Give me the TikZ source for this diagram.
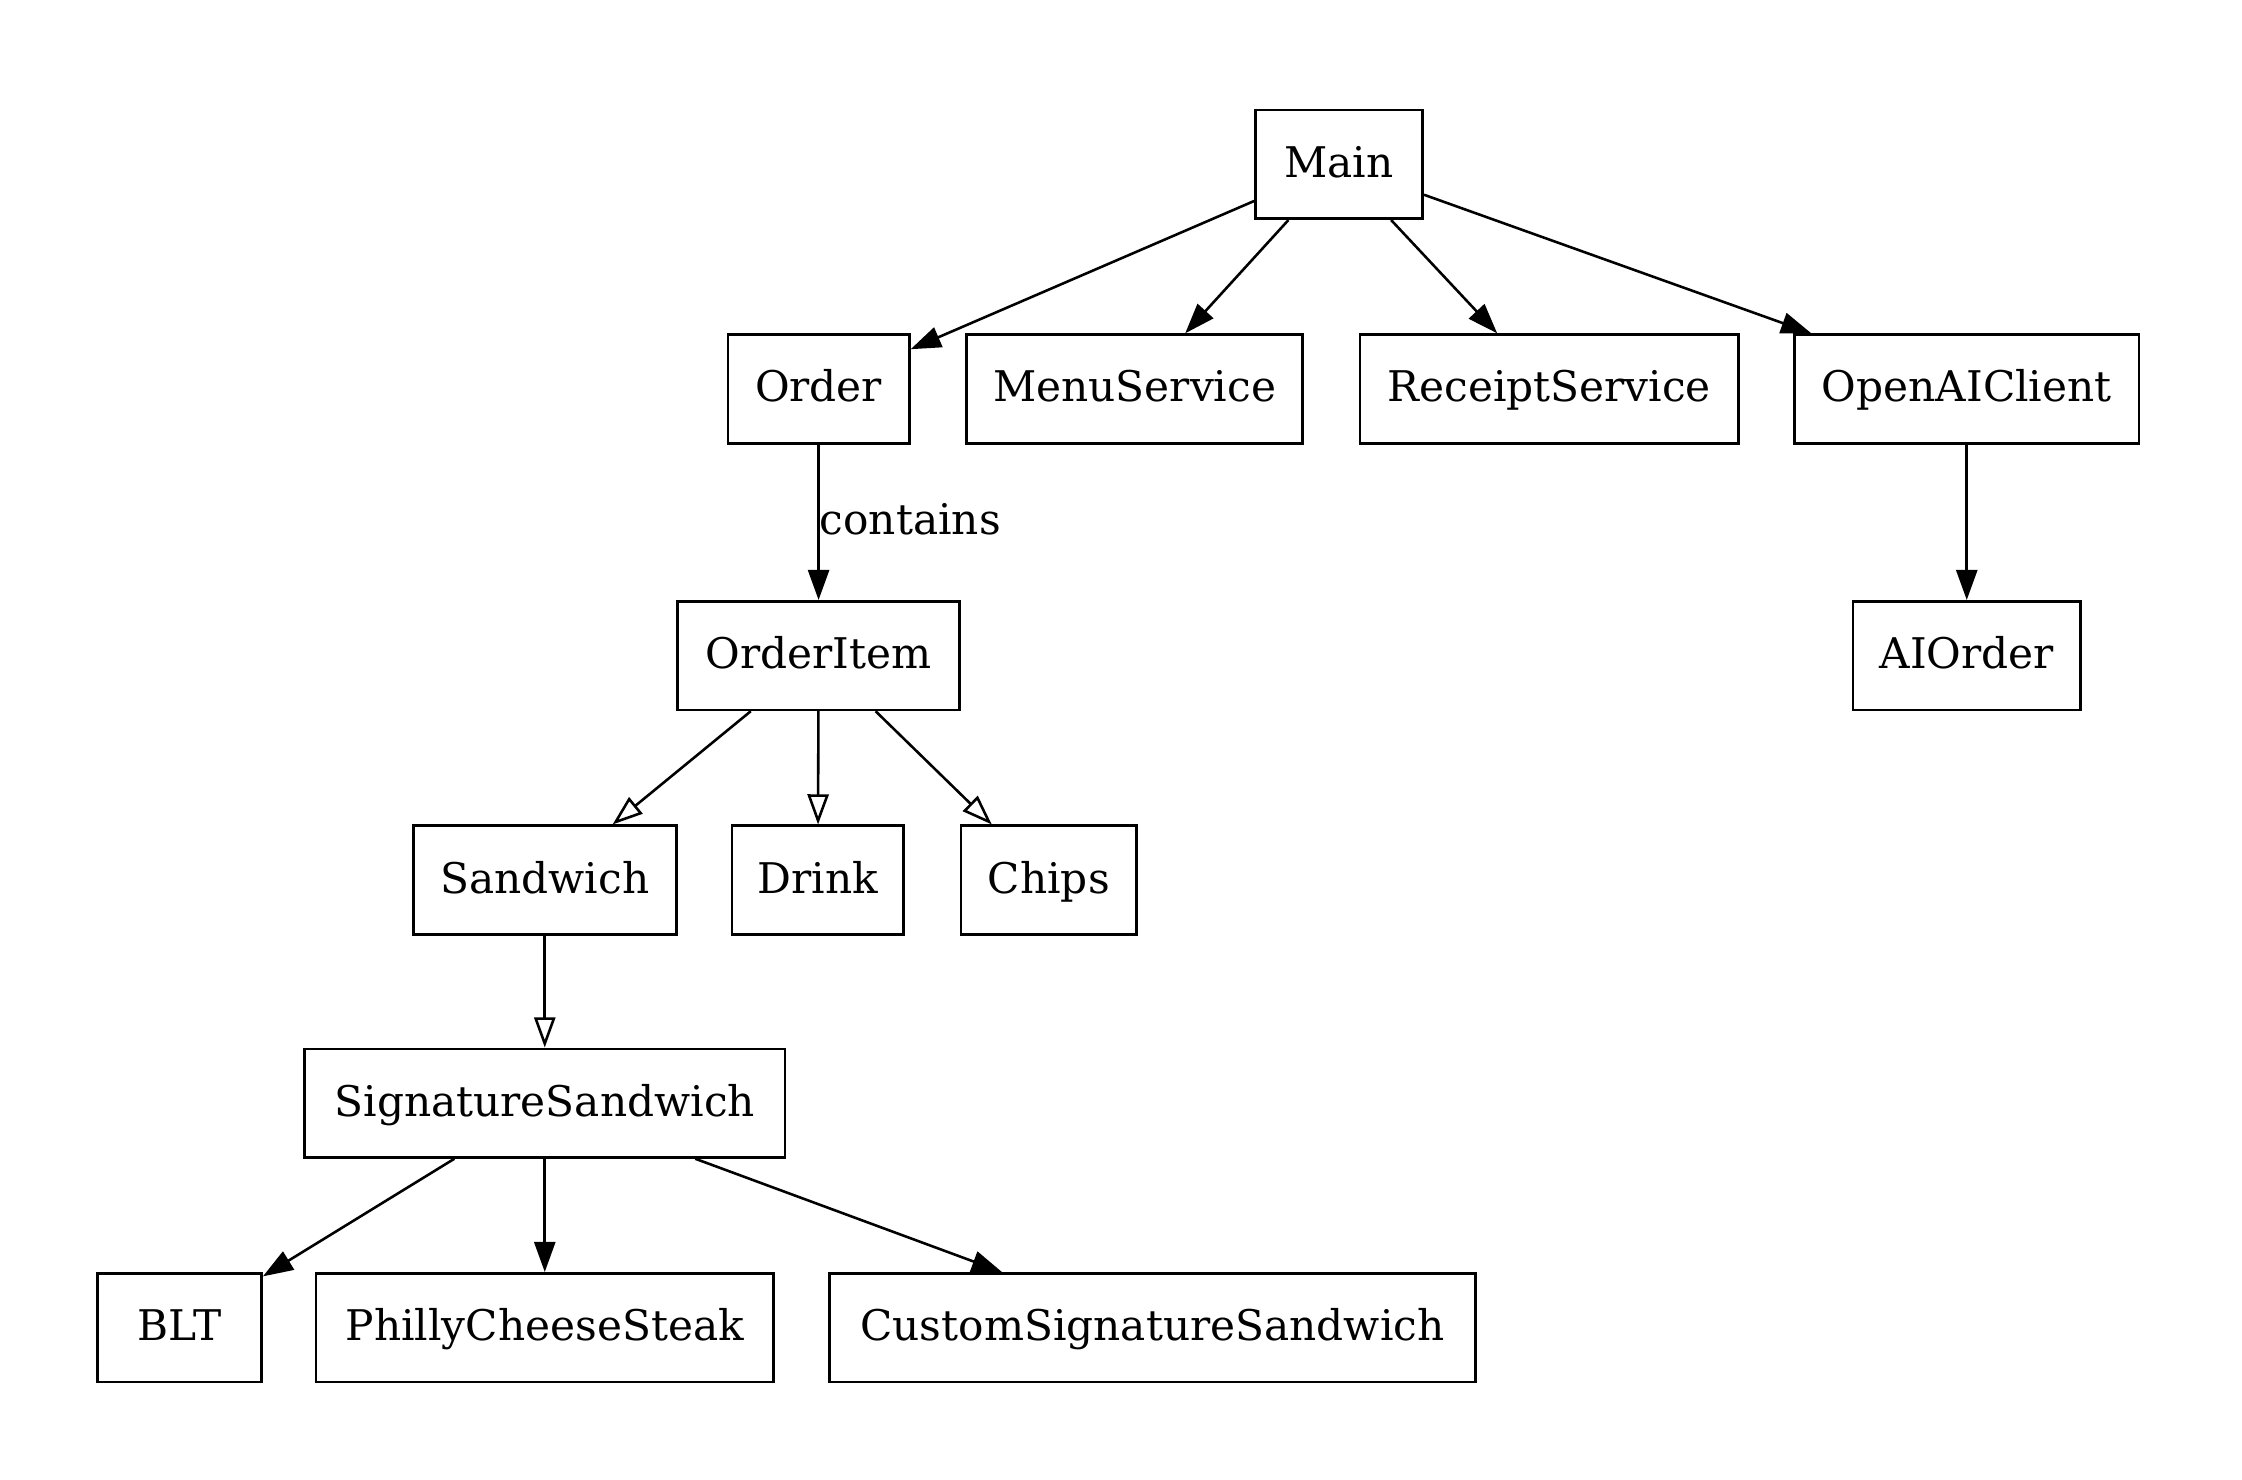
\documentclass[tikz,border=0pt]{standalone}
\usepackage{fontspec}
\setmainfont{DejaVu Serif}
\usetikzlibrary{arrows.meta}
\begin{document}
\begin{tikzpicture}[x=0.4737pt,y=-0.4737pt,
  box/.style={draw,line width=0.85pt,minimum height=36pt,inner sep=0pt,text height=11.6pt,text depth=3pt,font=\fontsize{14pt}{16pt}\selectfont},
  dep/.style={line width=0.85pt,-{Triangle[length=10pt,width=7pt]}},
  inh/.style={line width=0.85pt,-{Triangle[open,length=10pt,width=7pt,fill=white]}}]
\useasboundingbox (0,0) rectangle (1568,1035);
\node[box,minimum width=117*0.4737pt] (main) at (936.5,115) {Main};
\node[box,minimum width=127*0.4737pt] (order) at (572.5,272) {Order};
\node[box,minimum width=235*0.4737pt] (menu) at (793.5,272) {MenuService};
\node[box,minimum width=265*0.4737pt] (receipt) at (1083.5,272) {ReceiptService};
\node[box,minimum width=241*0.4737pt] (openai) at (1375.5,272) {OpenAIClient};
\node[box,minimum width=197*0.4737pt] (orderitem) at (572.5,458.5) {OrderItem};
\node[box,minimum width=159*0.4737pt] (aiorder) at (1375.5,458.5) {AIOrder};
\node[box,minimum width=184*0.4737pt] (sandwich) at (381,615.5) {Sandwich};
\node[box,minimum width=120*0.4737pt] (drink) at (572,615.5) {Drink};
\node[box,minimum width=123*0.4737pt] (chips) at (733.5,615.5) {Chips};
\node[box,minimum width=336*0.4737pt] (sig) at (381,771.5) {SignatureSandwich};
\node[box,minimum width=115*0.4737pt] (blt) at (125.5,928.5) {BLT};
\node[box,minimum width=320*0.4737pt] (philly) at (381,928.5) {PhillyCheeseSteak};
\node[box,minimum width=452*0.4737pt] (custom) at (806,928.5) {CustomSignatureSandwich};
\draw[dep] (main) -- (order);
\draw[dep] (main) -- (menu);
\draw[dep] (main) -- (receipt);
\draw[dep] (main) -- (openai);
\draw[dep] (order) -- node[anchor=west,inner sep=0pt,pos=0.48,font=\fontsize{14pt}{16pt}\selectfont] (lbl) {contains} (orderitem);
\draw[dep] (openai) -- (aiorder);
\draw[inh] (orderitem) -- (sandwich);
\draw[inh] (orderitem) -- (drink);
\draw[inh] (orderitem) -- (chips);
\draw[inh] (sandwich) -- (sig);
\draw[dep] (sig) -- (blt);
\draw[dep] (sig) -- (philly);
\draw[dep] (sig) -- (custom);
\end{tikzpicture}
\end{document}
